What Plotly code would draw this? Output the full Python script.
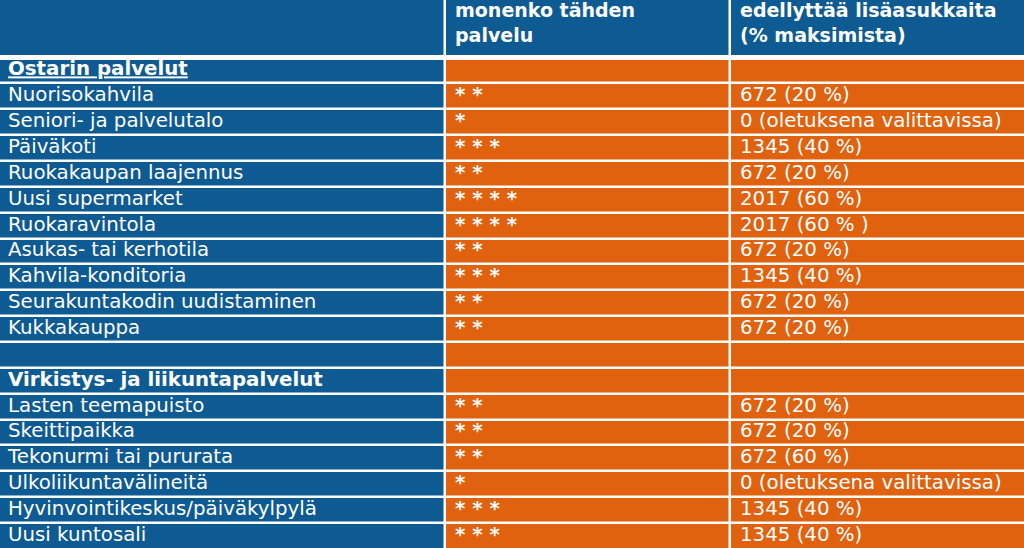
import plotly.graph_objects as go

services = ["<b><u>Ostarin palvelut</u></b>", "Nuorisokahvila", "Seniori- ja palvelutalo", "Päiväkoti",
            "Ruokakaupan laajennus", "Uusi supermarket", "Ruokaravintola", "Asukas- tai kerhotila",
            "Kahvila-konditoria", "Seurakuntakodin uudistaminen", "Kukkakauppa", "",
            "<b>Virkistys- ja liikuntapalvelut</b>", "Lasten teemapuisto", "Skeittipaikka",
            "Tekonurmi tai pururata", "Ulkoliikuntavälineitä", "Hyvinvointikeskus/päiväkylpylä",
            "Uusi kuntosali"]
stars = ["", "**", "*", "***", "**", "****", "****", "**", "***", "**", "**", "", "",
         "**", "**", "**", "*", "***", "***"]
residents = ["", "672 (20 %)", "0 (oletuksena valittavissa)", "1345 (40 %)", "672 (20 %)",
             "2017 (60 %)", "2017 (60 % )", "672 (20 %)", "1345 (40 %)", "672 (20 %)",
             "672 (20 %)", "", "", "672 (20 %)", "672 (20 %)", "672 (60 %)",
             "0 (oletuksena valittavissa)", "1345 (40 %)", "1345 (40 %)"]
headers = ["", "<b>monenko tähden<br>palvelu</b>", "<b>edellyttää lisäasukkaita<br>(% maksimista)</b>"]

BLUE = "#0E5A93"
ORANGE = "#E0620F"
FONT = "DejaVu Sans"
FS_BODY = 19.8
FS_HEAD = 19

# layout geometry (screen-pixel-like units)
col_edges = [-3, 445, 730, 1030]
col_text_x = [8, 455, 740]
header_bottom = 57.5
row_h = 25.86
n = len(services)
row_edges = [-3, header_bottom] + [header_bottom + row_h * (i + 1) for i in range(n)]
row_edges[-1] += 10
row_centers = [header_bottom + row_h * (i + 0.5) for i in range(n)]

# cell colour index: 0 = blue, 1 = orange
z = [[0, 0, 0]] + [[0, 1, 1] for _ in range(n)]

fig = go.Figure()
fig.add_trace(go.Heatmap(
    x=col_edges, y=row_edges, z=z,
    colorscale=[[0, BLUE], [1, ORANGE]], zmin=0, zmax=1,
    showscale=False, xgap=2.5, ygap=2.5, hoverinfo="skip",
))

# header texts
fig.add_trace(go.Scatter(
    x=col_text_x, y=[25] * 3, text=headers, mode="text",
    textposition="middle right",
    textfont=dict(family=FONT, size=FS_HEAD, color="white"), hoverinfo="skip",
))
# body texts
columns = [services, ["<b>" + " ".join(s) + "</b>" if s else "" for s in stars], residents]
for cx, texts in zip(col_text_x, columns):
    fig.add_trace(go.Scatter(
        x=[cx] * n, y=row_centers, text=texts, mode="text",
        textposition="middle right",
        textfont=dict(family=FONT, size=FS_BODY, color="white"), hoverinfo="skip",
    ))

# thicker separator under the header
fig.add_shape(type="line", x0=-5, x1=1040, y0=header_bottom, y1=header_bottom,
              line=dict(color="white", width=5), layer="above")

fig.update_layout(
    width=1024, height=548, margin=dict(l=0, r=0, t=0, b=0),
    paper_bgcolor="white", plot_bgcolor="white", showlegend=False,
    xaxis=dict(range=[0, 1024], visible=False, fixedrange=True),
    yaxis=dict(range=[548, 0], visible=False, fixedrange=True),
)
fig.write_html("out.html", config={"displayModeBar": False},
               post_script="document.body.style.margin='0';document.body.style.overflow='hidden';")
